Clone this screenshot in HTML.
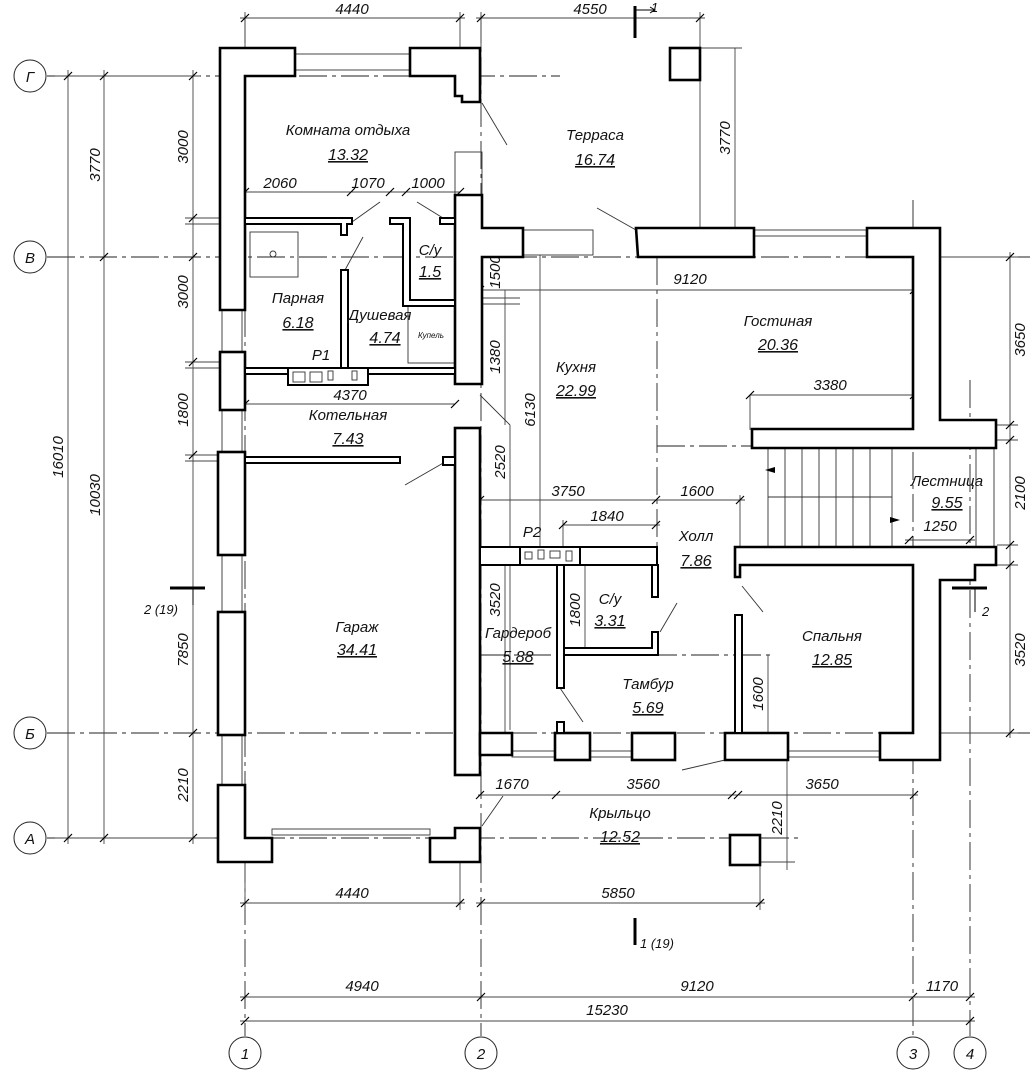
<!DOCTYPE html>
<html><head><meta charset="utf-8"><style>
html,body{margin:0;padding:0;background:#fff}
svg text{font-family:"Liberation Sans",sans-serif;font-style:italic;fill:#111}
.w{fill:#fff;stroke:#000;stroke-width:2.6}
.p{fill:#fff;stroke:#000;stroke-width:2}
.t{fill:none;stroke:#333;stroke-width:0.9}
.d{fill:none;stroke:#444;stroke-width:0.9}
.ax{fill:none;stroke:#222;stroke-width:0.9;stroke-dasharray:28 5 4 5}
.dim{font-size:15px;fill:#333}
.lab{font-size:15px}
.num{font-size:16px;text-decoration:underline}
</style></head><body>
<svg width="1034" height="1080" viewBox="0 0 1034 1080" xmlns="http://www.w3.org/2000/svg">
<g class="ax">
<line x1="47" y1="76" x2="560" y2="76"/>
<line x1="47" y1="257" x2="1030" y2="257"/>
<line x1="47" y1="733" x2="1030" y2="733"/>
<line x1="47" y1="838" x2="800" y2="838"/>
<line x1="245" y1="15" x2="245" y2="1036"/>
<line x1="481" y1="15" x2="481" y2="1036"/>
<line x1="913" y1="200" x2="913" y2="1036"/>
<line x1="970" y1="380" x2="970" y2="1036"/>
<line x1="657" y1="257" x2="657" y2="547"/>
<line x1="657" y1="446" x2="752" y2="446"/>
<line x1="481" y1="655" x2="770" y2="655"/>
</g>
<g fill="#fff" stroke="#222" stroke-width="1">
<circle cx="30" cy="76" r="16"/><circle cx="30" cy="257" r="16"/><circle cx="30" cy="733" r="16"/><circle cx="30" cy="838" r="16"/>
<circle cx="245" cy="1053" r="16"/><circle cx="481" cy="1053" r="16"/><circle cx="913" cy="1053" r="16"/><circle cx="970" cy="1053" r="16"/>
</g>
<g class="lab" text-anchor="middle">
<text x="30" y="82">Г</text><text x="30" y="263">В</text><text x="30" y="739">Б</text><text x="30" y="844">А</text>
<text x="245" y="1059">1</text><text x="481" y="1059">2</text><text x="913" y="1059">3</text><text x="970" y="1059">4</text>
</g>

<g class="d">
<line x1="68" y1="70" x2="68" y2="844"/><line x1="104" y1="70" x2="104" y2="844"/><line x1="193" y1="70" x2="193" y2="844"/>
<line x1="55" y1="76" x2="200" y2="76"/>
<line x1="55" y1="838" x2="215" y2="838"/>
<line x1="185" y1="218" x2="245" y2="218"/><line x1="185" y1="224" x2="245" y2="224"/>
<line x1="185" y1="362" x2="245" y2="362"/><line x1="185" y1="368" x2="245" y2="368"/>
<line x1="185" y1="455" x2="245" y2="455"/><line x1="185" y1="461" x2="245" y2="461"/>
<line x1="240" y1="18" x2="465" y2="18"/><line x1="476" y1="18" x2="705" y2="18"/>
<line x1="245" y1="12" x2="245" y2="48"/><line x1="460" y1="12" x2="460" y2="48"/><line x1="481" y1="12" x2="481" y2="48"/><line x1="700" y1="12" x2="700" y2="228"/>
<line x1="735" y1="48" x2="735" y2="228"/><line x1="700" y1="48" x2="742" y2="48"/>
<line x1="240" y1="903" x2="465" y2="903"/><line x1="476" y1="903" x2="765" y2="903"/>
<line x1="245" y1="862" x2="245" y2="910"/><line x1="460" y1="862" x2="460" y2="910"/><line x1="760" y1="862" x2="760" y2="910"/>
<line x1="240" y1="997" x2="975" y2="997"/><line x1="240" y1="1021" x2="975" y2="1021"/>
<line x1="1010" y1="252" x2="1010" y2="738"/><line x1="940" y1="257" x2="1018" y2="257"/>
<line x1="997" y1="425" x2="1018" y2="425"/><line x1="997" y1="440" x2="1018" y2="440"/><line x1="997" y1="545" x2="1018" y2="545"/><line x1="997" y1="565" x2="1018" y2="565"/>
<line x1="940" y1="733" x2="1018" y2="733"/>
<line x1="245" y1="192" x2="460" y2="192"/>
<line x1="245" y1="404" x2="455" y2="404"/>
<line x1="475" y1="290" x2="918" y2="290"/>
<line x1="750" y1="395" x2="916" y2="395"/><line x1="750" y1="395" x2="750" y2="430"/>
<line x1="478" y1="500" x2="745" y2="500"/><line x1="740" y1="495" x2="740" y2="547"/>
<line x1="563" y1="525" x2="660" y2="525"/><line x1="563" y1="520" x2="563" y2="547"/>
<line x1="905" y1="540" x2="975" y2="540"/>
<line x1="478" y1="795" x2="918" y2="795"/>
<line x1="505" y1="290" x2="505" y2="425"/><line x1="480" y1="304" x2="520" y2="304"/><line x1="480" y1="298" x2="520" y2="298"/>
<line x1="540" y1="255" x2="540" y2="550"/>
<line x1="510" y1="425" x2="510" y2="730"/>
<line x1="505" y1="565" x2="505" y2="735"/>
<line x1="585" y1="565" x2="585" y2="655"/>
<line x1="768" y1="655" x2="768" y2="733"/>
<line x1="787" y1="760" x2="787" y2="870"/><line x1="760" y1="862" x2="795" y2="862"/>
</g>
<g stroke="#000" stroke-width="1.2">
<path d="M64 80l8-8M100 80l8-8M189 80l8-8M64 842l8-8M100 842l8-8M100 261l8-8M189 842l8-8M189 737l8-8M189 222l8-8M189 366l8-8M189 459l8-8M189 261l8-8"/>
<path d="M241 22l8-8M456 22l8-8M477 22l8-8M696 22l8-8M241 907l8-8M456 907l8-8M477 907l8-8M756 907l8-8"/>
<path d="M241 1001l8-8M477 1001l8-8M909 1001l8-8M966 1001l8-8M241 1025l8-8M966 1025l8-8"/>
<path d="M1006 261l8-8M1006 429l8-8M1006 444l8-8M1006 549l8-8M1006 569l8-8M1006 737l8-8"/>
<path d="M241 196l8-8M347 196l8-8M386 196l8-8M402 196l8-8M456 196l8-8M241 408l8-8M451 408l8-8"/>
<path d="M476 294l8-8M910 294l8-8M746 399l8-8M910 399l8-8M476 504l8-8M652 504l8-8M736 504l8-8M559 529l8-8M652 529l8-8M905 544l8-8M966 544l8-8"/>
<path d="M476 799l8-8M552 799l8-8M728 799l8-8M734 799l8-8M910 799l8-8"/>
</g>
<g class="dim" text-anchor="middle">
<text x="352" y="14">4440</text><text x="590" y="14">4550</text>
<text x="352" y="898">4440</text><text x="618" y="898">5850</text>
<text x="362" y="991">4940</text><text x="697" y="991">9120</text><text x="942" y="991">1170</text><text x="607" y="1015">15230</text>
<text x="280" y="188">2060</text><text x="368" y="188">1070</text><text x="428" y="188">1000</text>
<text x="350" y="400">4370</text><text x="690" y="284">9120</text><text x="830" y="390">3380</text>
<text x="568" y="496">3750</text><text x="697" y="496">1600</text><text x="607" y="521">1840</text><text x="940" y="531">1250</text>
<text x="512" y="789">1670</text><text x="643" y="789">3560</text><text x="822" y="789">3650</text>
</g>
<g class="dim" text-anchor="middle">
<text transform="translate(63,457) rotate(-90)">16010</text>
<text transform="translate(100,165) rotate(-90)">3770</text>
<text transform="translate(100,495) rotate(-90)">10030</text>
<text transform="translate(188,147) rotate(-90)">3000</text>
<text transform="translate(188,292) rotate(-90)">3000</text>
<text transform="translate(188,410) rotate(-90)">1800</text>
<text transform="translate(188,650) rotate(-90)">7850</text>
<text transform="translate(188,785) rotate(-90)">2210</text>
<text transform="translate(730,138) rotate(-90)">3770</text>
<text transform="translate(1025,340) rotate(-90)">3650</text>
<text transform="translate(1025,493) rotate(-90)">2100</text>
<text transform="translate(1025,650) rotate(-90)">3520</text>
<text transform="translate(500,272) rotate(-90)">1500</text>
<text transform="translate(500,357) rotate(-90)">1380</text>
<text transform="translate(535,410) rotate(-90)">6130</text>
<text transform="translate(505,462) rotate(-90)">2520</text>
<text transform="translate(500,600) rotate(-90)">3520</text>
<text transform="translate(580,610) rotate(-90)">1800</text>
<text transform="translate(763,694) rotate(-90)">1600</text>
<text transform="translate(782,818) rotate(-90)">2210</text>
</g>

<g class="t">
<rect x="295" y="54" width="115" height="16"/>
<rect x="222" y="310" width="20" height="42"/><rect x="222" y="410" width="20" height="42"/><rect x="222" y="555" width="20" height="57"/><rect x="222" y="735" width="20" height="50"/>
<rect x="272" y="829" width="158" height="6"/>
<rect x="523" y="230" width="70" height="25"/><rect x="754" y="230" width="113" height="6"/>
<rect x="455" y="152" width="27" height="45"/>
<rect x="512" y="751" width="43" height="6"/><rect x="590" y="751" width="42" height="6"/><rect x="785" y="751" width="95" height="6"/>
<rect x="976" y="448" width="18" height="99"/>
<rect x="768" y="448" width="124" height="99"/>
<line x1="768" y1="497" x2="892" y2="497"/>
<path d="M785 448v99M802 448v99M819 448v99M836 448v99M853 448v99M870 448v99"/>
<rect x="250" y="232" width="48" height="45"/><circle cx="273" cy="254" r="3"/>
<rect x="408" y="304" width="47" height="59"/>
<line x1="480" y1="395" x2="510" y2="425"/><line x1="380" y1="202" x2="352" y2="222"/><line x1="417" y1="202" x2="443" y2="218"/>
<line x1="363" y1="237" x2="345" y2="270"/><line x1="405" y1="485" x2="445" y2="462"/>
<line x1="482" y1="103" x2="507" y2="145"/><line x1="597" y1="208" x2="636" y2="230"/>
<line x1="560" y1="688" x2="583" y2="722"/><line x1="742" y1="586" x2="763" y2="612"/>
<line x1="660" y1="632" x2="677" y2="603"/><line x1="682" y1="770" x2="725" y2="760"/>
<line x1="482" y1="826" x2="503" y2="796"/>
</g>

<g class="w">
<path d="M220 48H295V76H245V310H220Z"/>
<path d="M410 48H480V102H462V96H455V76H410Z"/>
<rect x="220" y="352" width="25" height="58"/>
<rect x="218" y="452" width="27" height="103"/>
<rect x="218" y="612" width="27" height="123"/>
<path d="M218 785H245V838H272V862H218Z"/>
<path d="M455 195H482V228H523V257H482V384H455Z"/>
<rect x="455" y="428" width="25" height="347"/>
<path d="M430 838H455V828H480V862H430Z"/>
<rect x="670" y="48" width="30" height="32"/>
<path d="M636 228H754V257H638Z"/>
<path d="M867 228H940V420H996V448H752V429H913V257H867Z"/>
<path d="M735 547H996V565H975V580H940V760H880V733H913V565H740V577H735Z"/>
<path d="M725 733H788V760H725Z"/>
<rect x="730" y="835" width="30" height="30"/>
<path d="M480 733H512V755H480Z"/>
<rect x="555" y="733" width="35" height="27"/>
<rect x="632" y="733" width="43" height="27"/>
</g>
<g class="p">
<path d="M245 218H352V224H347V235H341V224H245Z"/>
<path d="M390 218H410V300H455V306H403V224H390Z"/>
<path d="M440 218H455V224H440Z"/>
<rect x="341" y="270" width="7" height="98"/>
<rect x="245" y="368" width="210" height="6"/>
<rect x="288" y="368" width="80" height="17"/>
<rect x="245" y="457" width="155" height="6"/>
<rect x="443" y="457" width="12" height="8"/>
<rect x="480" y="547" width="177" height="18"/>
<rect x="520" y="547" width="60" height="18"/>
<rect x="557" y="565" width="7" height="123"/>
<rect x="652" y="565" width="6" height="32"/>
<path d="M564 648H652V632H658V655H564Z"/>
<rect x="735" y="615" width="7" height="118"/>
<rect x="557" y="722" width="7" height="11"/>
</g>
<g class="t"><rect x="293" y="372" width="12" height="10"/><rect x="310" y="372" width="12" height="10"/><rect x="328" y="371" width="5" height="9"/><rect x="352" y="371" width="5" height="9"/>
<rect x="525" y="552" width="7" height="7"/><rect x="538" y="550" width="6" height="9"/><rect x="550" y="551" width="10" height="7"/><rect x="566" y="551" width="6" height="10"/></g>

<path d="M765 470l10-3v6z M900 520l-10-3v6z" fill="#000"/>
<g stroke="#000" stroke-width="3"><line x1="635" y1="6" x2="635" y2="38"/><line x1="635" y1="918" x2="635" y2="945"/><line x1="170" y1="588" x2="205" y2="588"/><line x1="952" y1="588" x2="987" y2="588"/></g>
<g stroke="#000" stroke-width="1" fill="none"><path d="M635 10H655M650 7l5 3-5 3"/><path d="M193 588V605M975 588V612"/></g>
<g class="lab">
<text x="651" y="12" font-size="13">1</text><text x="640" y="948" font-size="13">1 (19)</text>
<text x="144" y="614" font-size="13">2 (19)</text><text x="982" y="616" font-size="13">2</text>
</g>

<g class="lab" text-anchor="middle">
<text x="348" y="135">Комната  отдыха</text><text class="num" x="348" y="160">13.32</text>
<text x="595" y="140">Терраса</text><text class="num" x="595" y="165">16.74</text>
<text x="430" y="255">С/у</text><text class="num" x="430" y="277">1.5</text>
<text x="298" y="303">Парная</text><text class="num" x="298" y="328">6.18</text>
<text x="380" y="320">Душевая</text><text class="num" x="385" y="343">4.74</text>
<text x="431" y="338" font-size="8">Купель</text>
<text x="321" y="360">Р1</text>
<text x="348" y="420">Котельная</text><text class="num" x="348" y="444">7.43</text>
<text x="778" y="326">Гостиная</text><text class="num" x="778" y="350">20.36</text>
<text x="576" y="372">Кухня</text><text class="num" x="576" y="396">22.99</text>
<text x="947" y="486">Лестница</text><text class="num" x="947" y="508">9.55</text>
<text x="696" y="541">Холл</text><text class="num" x="696" y="566">7.86</text>
<text x="532" y="537">Р2</text>
<text x="610" y="604">С/у</text><text class="num" x="610" y="626">3.31</text>
<text x="518" y="638">Гардероб</text><text class="num" x="518" y="662">5.88</text>
<text x="357" y="632">Гараж</text><text class="num" x="357" y="655">34.41</text>
<text x="832" y="641">Спальня</text><text class="num" x="832" y="665">12.85</text>
<text x="648" y="689">Тамбур</text><text class="num" x="648" y="713">5.69</text>
<text x="620" y="818">Крыльцо</text><text class="num" x="620" y="842">12.52</text>
</g>
</svg>
</body></html>
